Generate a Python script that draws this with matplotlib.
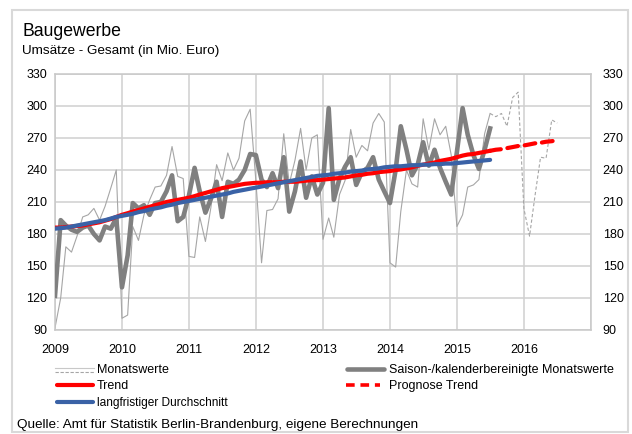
import numpy as np
import pandas as pd
import matplotlib
matplotlib.use("Agg")
import matplotlib.pyplot as plt
from matplotlib.lines import Line2D
from matplotlib.patches import Rectangle

plt.rcParams['font.family'] = ['Liberation Sans', 'DejaVu Sans']

# monthly values Jan 2009 - Jul 2015
monatswerte = [
    92, 120, 168, 163, 178, 196, 198, 204, 193, 206, 223, 240,
    101, 104, 187, 174, 198, 212, 224, 225, 235, 262, 234, 232,
    159, 158, 196, 173, 205, 245, 230, 256, 240, 251, 286, 297,
    230, 153, 202, 203, 213, 274, 227, 249, 279, 240, 270, 273,
    175, 195, 177, 217, 230, 278, 252, 263, 258, 284, 293, 285,
    153, 149, 201, 240, 227, 224, 288, 259, 288, 273, 281, 254,
    187, 198, 224, 226, 231, 274, 293,
]
saisonbereinigt = [
    122, 193, 188, 184, 182, 186, 188, 180, 174, 187, 185, 195,
    130, 160, 209, 204, 207, 198, 209, 210, 220, 235, 192, 196,
    216, 242, 220, 200, 213, 229, 196, 229, 227, 231, 240, 255,
    254, 231, 224, 237, 223, 252, 201, 220, 248, 214, 234, 217,
    228, 298, 212, 232, 243, 252, 226, 238, 242, 252, 231, 220,
    209, 240, 281, 259, 235, 245, 266, 244, 259, 242, 229, 217,
    257, 298, 273, 254, 241, 259, 279,
]
trend = [
    186, 186, 186.5, 187, 187.5, 188, 189, 190, 191, 192.5, 194, 196,
    198, 199.5, 201, 202.5, 204, 205.5, 207, 208.5, 210, 211, 212, 213,
    214, 215.5, 217, 218.5, 220, 221.5, 223, 224, 225, 226, 227, 227.5,
    228, 228, 228.5, 228.5, 228.5, 229, 229, 229, 229.5, 230, 230.5, 230.5,
    231, 231.5, 232, 232.5, 233, 234, 235, 235.5, 236.5, 237, 238, 238.5,
    239, 240, 240.5, 241.5, 242.5, 244, 245, 246, 247, 248.5, 249.5, 250.5,
    252, 253.5, 254.5, 255, 256, 257, 258,
]
durchschnitt = [
    185, 185.5, 186, 187, 188, 189, 190, 191, 192, 193, 194.5, 196,
    197, 198, 199, 200.5, 201.5, 203, 204, 205, 206.5, 207.5, 209, 210,
    211, 212, 213, 214, 215, 216, 217, 218, 219.5, 220.5, 221.5, 222.5,
    223.5, 224.5, 225.5, 226.5, 227.5, 228.5, 229.5, 230.5, 231.5, 232.5, 233.5, 234.5,
    235, 235.5, 236.5, 237, 237.5, 238.5, 239, 239.5, 240.5, 241, 241.5, 242.5,
    243, 243.5, 243.5, 244, 244.5, 244.5, 245, 245, 245.5, 245.5, 246, 246,
    246.5, 247, 247.5, 248, 248.5, 249, 249.5,
]
# Jul 2015 - Jul 2016
monatswerte_vorjahr = [293, 290, 293, 281, 308, 313, 204, 178, 215, 252, 251, 287, 284]
prognose_trend = [258, 259, 259.5, 260.5, 261.5, 262.5, 263, 264, 265, 265.5, 266.5, 267, 268]

months = pd.date_range('2009-01-01', periods=len(monatswerte), freq='MS')
months_prog = pd.date_range('2015-07-01', periods=len(prognose_trend), freq='MS')
years = list(range(2009, 2018))
yticks = list(range(90, 331, 30))

fig = plt.figure(figsize=(6.32, 4.34), dpi=100)
ax = fig.add_axes([55 / 632, 1 - 330 / 434, 536 / 632, 256 / 434])

grey_thin = '#a6a6a6'
grey_thick = '#808080'
red = '#ff0000'
blue = '#3a62a6'

ax.plot(months, monatswerte, color=grey_thin, lw=0.8, zorder=2)
ax.plot(months_prog, monatswerte_vorjahr, color=grey_thin, lw=0.8, ls=(0, (3, 2)), zorder=2)
ax.plot(months, saisonbereinigt, color=grey_thick, lw=3.3, zorder=3, solid_joinstyle='round')
ax.plot(months, trend, color=red, lw=3.0, zorder=4, solid_capstyle='round')
ax.plot(months_prog, prognose_trend, color=red, lw=3.0, ls=(0, (2.6, 1.6)),
        dash_capstyle='round', zorder=4)
ax.plot(months, durchschnitt, color=blue, lw=3.0, zorder=5, solid_capstyle='round')

ax.set_xlim(pd.Timestamp('2009-01-01'), pd.Timestamp('2017-01-01'))
ax.set_ylim(90, 330)
ax.set_xticks([pd.Timestamp(f'{y}-01-01') for y in years])
ax.set_xticklabels([str(y) if y < 2017 else '' for y in years])
ax.set_yticks(yticks)
ax.grid(True, color='#d0d0d0', lw=1.1)
ax.set_axisbelow(True)
for s in ax.spines.values():
    s.set_color('#c8c8c8')
    s.set_linewidth(1.1)
ax.tick_params(axis='both', length=0, labelsize=9, colors='black')
ax.tick_params(axis='x', pad=10)
ax.tick_params(axis='y', pad=5.5)

ax2 = ax.twinx()
ax2.set_ylim(90, 330)
ax2.set_yticks(yticks)
ax2.tick_params(axis='y', length=0, labelsize=9, pad=8.5)
for s in ax2.spines.values():
    s.set_visible(False)

# title
fig.text(22 / 632, 1 - 36 / 434, 'Baugewerbe', fontsize=12.7, va='baseline')
fig.text(22 / 632, 1 - 54 / 434, 'Umsätze - Gesamt (in Mio. Euro)', fontsize=9.7, va='baseline')

# legend drawn by hand
def leg_line(x0, x1, y, **kw):
    fig.add_artist(Line2D([x0 / 632, x1 / 632], [1 - y / 434, 1 - y / 434],
                          transform=fig.transFigure, **kw))

leg_line(55, 94, 368, color='#c8c8c8', lw=0.8)
leg_line(55, 94, 372, color='#a6a6a6', lw=0.8, ls=(0, (3, 1.5)))
fig.text(97 / 632, 1 - 370 / 434, 'Monatswerte', fontsize=9, va='center')
leg_line(347, 384, 369, color=grey_thick, lw=3.3, solid_capstyle='round')
fig.text(389 / 632, 1 - 370 / 434, 'Saison-/kalenderbereinigte Monatswerte', fontsize=9, va='center')
leg_line(57, 93, 385, color=red, lw=3.0, solid_capstyle='round')
fig.text(97 / 632, 1 - 386 / 434, 'Trend', fontsize=9, va='center')
leg_line(346, 380, 385, color=red, lw=2.6, ls=(0, (2.4, 1.6)))
fig.text(389 / 632, 1 - 386 / 434, 'Prognose Trend', fontsize=9, va='center')
leg_line(57, 93, 402, color=blue, lw=3.0, solid_capstyle='round')
fig.text(97 / 632, 1 - 403 / 434, 'langfristiger Durchschnitt', fontsize=8.6, va='center')

fig.text(17 / 632, 1 - 425 / 434,
         'Quelle: Amt für Statistik Berlin-Brandenburg, eigene Berechnungen',
         fontsize=9.7, va='center')

# outer frame
fig.add_artist(Rectangle((12 / 632, 1 - 432 / 434), 616 / 632, 422 / 434,
                         transform=fig.transFigure, fill=False,
                         edgecolor='#d9d9d9', lw=1.5))

fig.savefig('out.png', dpi=100)
